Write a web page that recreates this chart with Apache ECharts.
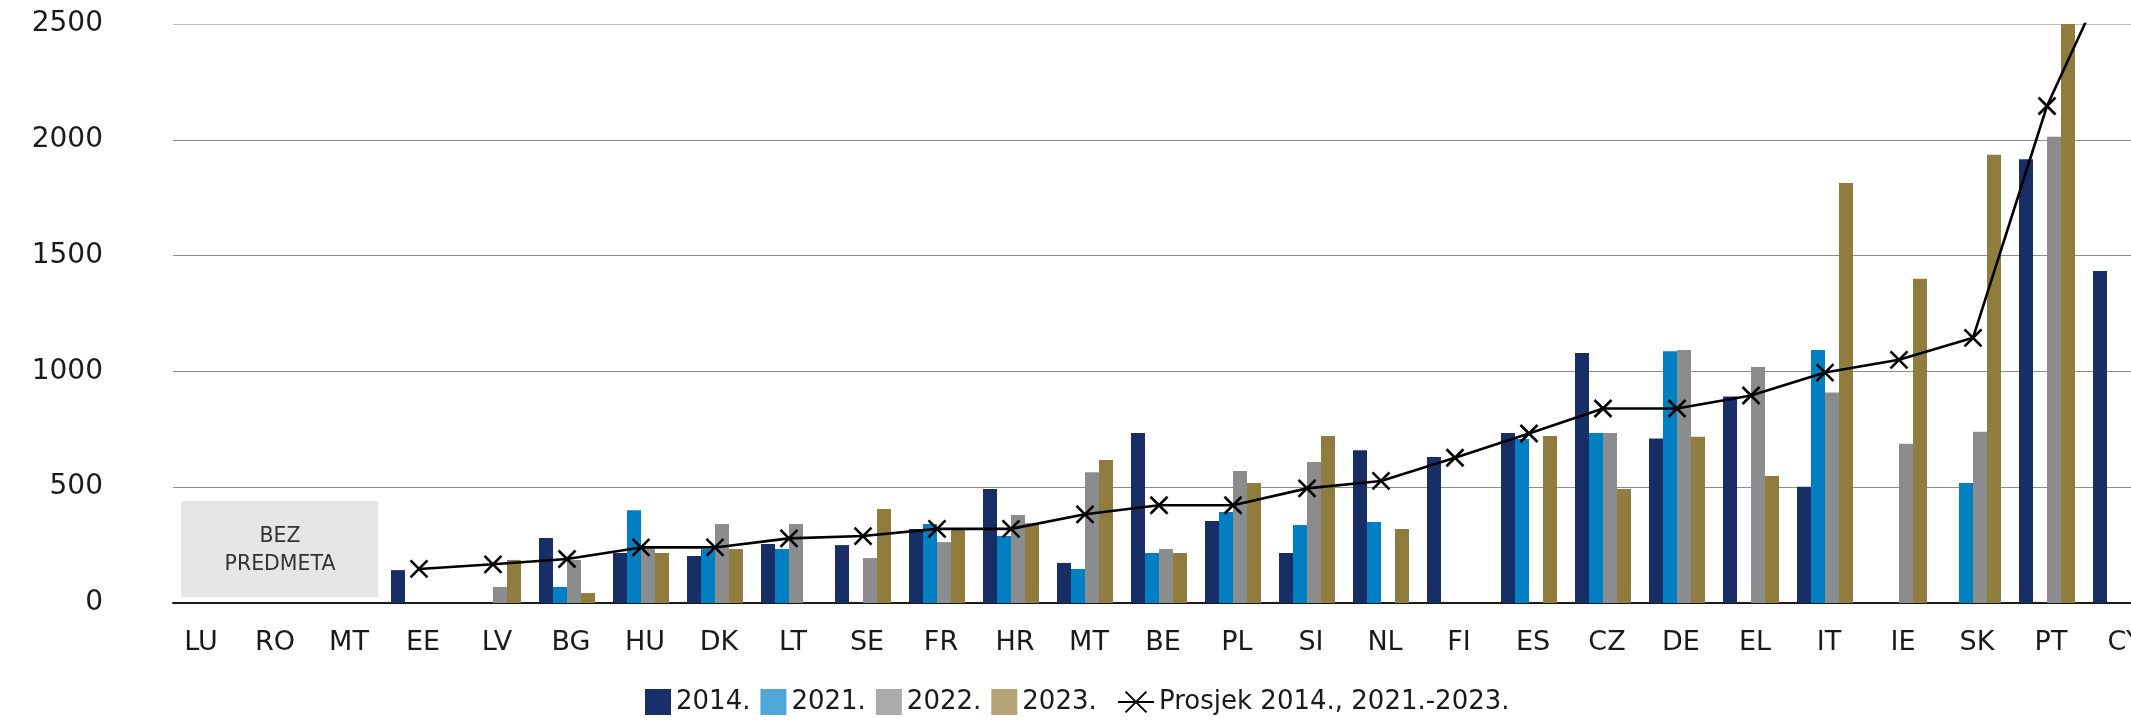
<!DOCTYPE html>
<html>
<head>
<meta charset="utf-8">
<script src="https://cdn.jsdelivr.net/npm/echarts@6/dist/echarts.min.js"></script>
<style>
  html, body { margin: 0; padding: 0; background: #ffffff; }
  #chart { width: 2131px; height: 721px; }
</style>
</head>
<body>
<div id="chart"></div>
<script>
// Country codes along the horizontal axis
const categories = ['LU', 'RO', 'MT', 'EE', 'LV', 'BG', 'HU', 'DK', 'LT', 'SE', 'FR', 'HR', 'MT', 'BE',
  'PL', 'SI', 'NL', 'FI', 'ES', 'CZ', 'DE', 'EL', 'IT', 'IE', 'SK', 'PT', 'CY'];

// Yearly values per country (null = no value)
const values2014 = [null, null, null, 142, null, 281, 216, 203, 255, 250, 319, 492, 173, 734,
  354, 216, 660, 630, 734, 1079, 710, 892, 502, null, null, 1916, 1434];
const values2021 = [null, null, null, null, null, 69, 401, 233, 233, null, 341, 289, 147, 216,
  393, 337, 350, null, 708, 734, 1087, null, 1092, null, 518, null, null];
const values2022 = [null, null, null, null, 69, 186, 236, 341, 341, 194, 263, 380, 565, 233,
  570, 609, null, null, null, 734, 1092, 1019, 909, 688, 739, 2013, null];
const values2023 = [null, null, null, null, 186, 43, 216, 233, null, 406, 319, 344, 617, 216,
  518, 721, 319, null, 721, 492, 718, 548, 1813, 1400, 1935, 2509, null];

// Average of 2014 and 2021-2023
const average = [null, null, null, 147, 167, 190, 240, 240, 279, 289, 320, 320, 383, 422,
  422, 495, 527, 627, 732, 840, 840, 896, 995, 1050, 1145, 2146, 2840];

// Value axis ticks
const yTicks = [0, 500, 1000, 1500, 2000, 2500];

const seriesNames = ['2014.', '2021.', '2022.', '2023.'];
const lineName = 'Prosjek 2014., 2021.-2023.';

const barColors = ['#172f66', '#0080c3', '#8b8c8e', '#907d3d'];
const legendColors = ['#17306a', '#4fa8d8', '#aaabad', '#b6a476'];
const FONT = 'DejaVu Sans';
const TEXT = '#1a1a1a';

const yMin = yTicks[0];
const yMax = yTicks[yTicks.length - 1];
const yStep = yTicks[1] - yTicks[0];

const chart = echarts.init(document.getElementById('chart'), null, { renderer: 'canvas' });

const barData = [values2014, values2021, values2022, values2023];

const barSeries = barData.map((d, i) => ({
  name: seriesNames[i],
  type: 'bar',
  xAxisIndex: 1,
  yAxisIndex: 1,
  data: d,
  barWidth: 14,
  barGap: '0%',
  itemStyle: { color: barColors[i] },
  emphasis: { disabled: true }
}));

const option = {
  animation: false,
  backgroundColor: '#ffffff',
  textStyle: { fontFamily: FONT },
  grid: [
    // frame: value labels, gridlines and baseline
    { left: 173, right: 0, top: 24, bottom: 118, outerBoundsMode: 'none' },
    // plotting area for the country groups (runs past the right edge)
    { left: 160, width: 1998, top: 24, bottom: 118, outerBoundsMode: 'none' }
  ],
  legend: [
    {
      data: seriesNames.map((n, i) => ({ name: n, itemStyle: { color: legendColors[i] } })),
      icon: 'rect',
      left: 640,
      top: 684,
      itemWidth: 26,
      itemHeight: 26,
      itemGap: 10,
      selectedMode: false,
      textStyle: { fontFamily: FONT, fontSize: 26, color: TEXT }
    },
    {
      data: [lineName],
      left: 1112,
      top: 684,
      itemWidth: 36,
      itemHeight: 26,
      selectedMode: false,
      textStyle: { fontFamily: FONT, fontSize: 26, color: TEXT }
    }
  ],
  xAxis: [
    {
      gridIndex: 0,
      type: 'value',
      min: 0,
      max: 1,
      axisTick: { show: false },
      axisLabel: { show: false },
      splitLine: { show: false },
      axisLine: { show: true, onZero: false, lineStyle: { color: TEXT, width: 2 } }
    },
    {
      gridIndex: 1,
      type: 'category',
      data: categories,
      axisTick: { show: false },
      axisLine: { show: false },
      axisLabel: {
        interval: 0,
        margin: 26,
        padding: [0, 0, 0, 8],
        fontFamily: FONT,
        fontSize: 27,
        color: TEXT
      }
    }
  ],
  yAxis: [
    {
      gridIndex: 0,
      type: 'value',
      min: yMin,
      max: yMax,
      interval: yStep,
      axisLine: { show: false },
      axisTick: { show: false },
      axisLabel: {
        margin: 70,
        fontFamily: FONT,
        fontSize: 28,
        color: TEXT,
        formatter: (v) => String(v)
      },
      splitLine: {
        show: true,
        lineStyle: { color: ['#8c8c8c', '#8c8c8c', '#8c8c8c', '#8c8c8c', '#8c8c8c', '#bdbdbd'], width: 1.2 }
      }
    },
    {
      gridIndex: 1,
      type: 'value',
      min: yMin,
      max: yMax,
      interval: yStep,
      show: false
    }
  ],
  series: barSeries.concat([{
    name: lineName,
    type: 'line',
    xAxisIndex: 1,
    yAxisIndex: 1,
    data: average,
    clip: true,
    connectNulls: false,
    symbol: 'path://M0,0L10,10M0,10L10,0',
    symbolSize: 17,
    lineStyle: { color: '#000000', width: 2.6 },
    itemStyle: { color: '#000000', borderColor: '#000000', borderWidth: 2.6 },
    emphasis: { disabled: true },
    z: 5
  }]),
  graphic: [
    {
      type: 'rect',
      left: 181,
      top: 501,
      shape: { width: 197, height: 96 },
      style: { fill: '#e6e6e6' },
      z: 10
    },
    {
      type: 'text',
      x: 280,
      y: 551,
      style: {
        text: 'BEZ\nPREDMETA',
        fill: '#333333',
        font: '20.5px "DejaVu Sans"',
        align: 'center',
        verticalAlign: 'middle',
        lineHeight: 28
      },
      z: 11
    }
  ]
};

chart.setOption(option);
</script>
</body>
</html>
